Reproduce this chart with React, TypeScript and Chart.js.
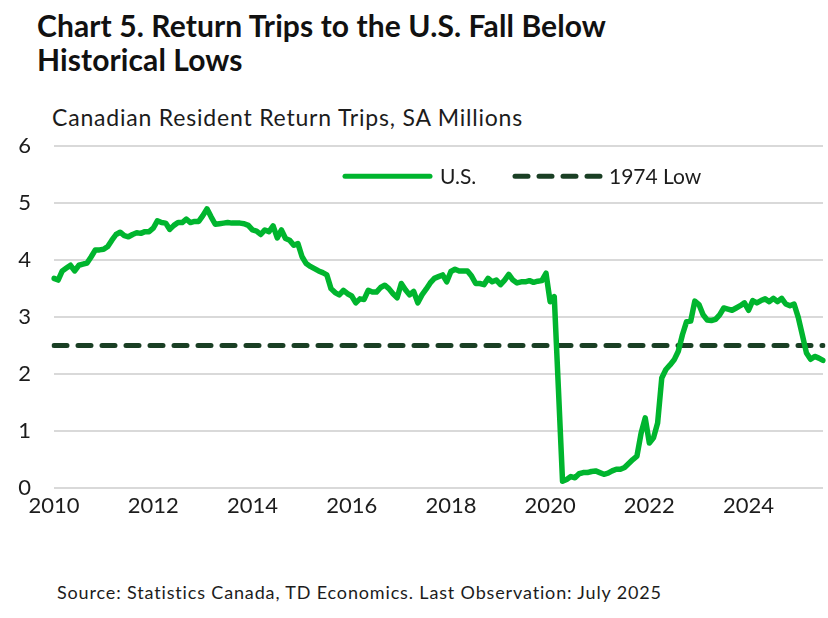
import React, { useEffect, useRef } from 'react';
import { Chart, registerables } from 'chart.js';

Chart.register(...registerables);

// Canadian resident return trips from the U.S., SA millions, monthly Jan 2010 - Jul 2025
const usTrips: number[] = [
  // 2010
  3.68, 3.65, 3.81, 3.86, 3.91, 3.81, 3.91, 3.93, 3.95, 4.06, 4.18, 4.18,
  // 2011
  4.19, 4.24, 4.35, 4.45, 4.49, 4.43, 4.41, 4.45, 4.48, 4.47, 4.50, 4.50,
  // 2012
  4.56, 4.69, 4.66, 4.65, 4.54, 4.61, 4.66, 4.66, 4.72, 4.66, 4.68, 4.68,
  // 2013
  4.78, 4.90, 4.76, 4.63, 4.64, 4.65, 4.66, 4.65, 4.65, 4.65, 4.64, 4.61,
  // 2014
  4.53, 4.51, 4.45, 4.53, 4.50, 4.60, 4.39, 4.53, 4.38, 4.35, 4.26, 4.29,
  // 2015
  4.06, 3.94, 3.89, 3.85, 3.81, 3.78, 3.74, 3.50, 3.43, 3.39, 3.47, 3.41,
  // 2016
  3.37, 3.25, 3.32, 3.31, 3.47, 3.44, 3.44, 3.52, 3.56, 3.50, 3.41, 3.34,
  // 2017
  3.59, 3.48, 3.39, 3.45, 3.25, 3.39, 3.49, 3.60, 3.68, 3.71, 3.74, 3.62,
  // 2018
  3.80, 3.84, 3.81, 3.81, 3.81, 3.72, 3.59, 3.59, 3.57, 3.68, 3.62, 3.65,
  // 2019
  3.57, 3.65, 3.75, 3.65, 3.60, 3.62, 3.62, 3.64, 3.61, 3.63, 3.64, 3.77,
  // 2020
  3.27, 3.36, 1.75, 0.12, 0.15, 0.20, 0.18, 0.25, 0.27, 0.27, 0.29, 0.30,
  // 2021
  0.27, 0.24, 0.26, 0.30, 0.33, 0.33, 0.36, 0.43, 0.50, 0.56, 0.96, 1.23,
  // 2022
  0.79, 0.88, 1.14, 1.93, 2.08, 2.16, 2.25, 2.40, 2.69, 2.92, 2.93, 3.28,
  // 2023
  3.22, 3.04, 2.95, 2.94, 2.96, 3.04, 3.16, 3.14, 3.12, 3.16, 3.20, 3.25,
  // 2024
  3.12, 3.29, 3.25, 3.29, 3.32, 3.27, 3.33, 3.27, 3.33, 3.23, 3.20, 3.23,
  // 2025 (Jan - Jul)
  3.00, 2.69, 2.37, 2.26, 2.31, 2.28, 2.24,
];

const low1974Value = 2.5;
const startYear = 2010;
const monthLabels: string[] = usTrips.map((_, i) => {
  const y = startYear + Math.floor(i / 12);
  const m = (i % 12) + 1;
  return `${y}-${m < 10 ? '0' + m : m}`;
});
const xTickYears = ['2010', '2012', '2014', '2016', '2018', '2020', '2022', '2024'];
const yTickValues = [0, 1, 2, 3, 4, 5, 6];

const seriesNames = ['U.S.', '1974 Low'];
const US_GREEN = '#00b52e';
const DARK_GREEN = '#1a3f24';
const TEXT = '#1c1c1c';
const FONT = 'Lato, "Open Sans", sans-serif';

const legendPlugin = {
  id: 'insideLegend',
  afterDraw(chart: any) {
    const { ctx, chartArea } = chart;
    const y = chartArea.top + 30;
    const x0 = chartArea.left + 289;
    ctx.save();
    ctx.lineCap = 'round';
    // U.S.
    ctx.strokeStyle = US_GREEN;
    ctx.lineWidth = 5;
    ctx.setLineDash([]);
    ctx.beginPath();
    ctx.moveTo(x0 + 2, y);
    ctx.lineTo(x0 + 87, y);
    ctx.stroke();
    ctx.font = `21px ${FONT}`;
    ctx.fillStyle = TEXT;
    ctx.textBaseline = 'middle';
    ctx.fillText(seriesNames[0], x0 + 97, y + 1);
    // 1974 Low
    const x1 = x0 + 170;
    ctx.strokeStyle = DARK_GREEN;
    ctx.setLineDash([13, 11]);
    ctx.beginPath();
    ctx.moveTo(x1 + 2, y);
    ctx.lineTo(x1 + 88, y);
    ctx.stroke();
    ctx.setLineDash([]);
    ctx.fillText(seriesNames[1], x1 + 96, y + 1);
    ctx.restore();
  },
};

function TripsChart() {
  const ref = useRef<HTMLCanvasElement | null>(null);
  useEffect(() => {
    if (!ref.current) return;
    const chart = new Chart(ref.current, {
      type: 'line',
      data: {
        labels: monthLabels,
        datasets: [
          {
            label: seriesNames[1],
            data: monthLabels.map(() => low1974Value),
            borderColor: DARK_GREEN,
            borderWidth: 5,
            borderDash: [13, 11],
            borderCapStyle: 'round',
            pointRadius: 0,
            fill: false,
            order: 2,
          },
          {
            label: seriesNames[0],
            data: usTrips,
            borderColor: US_GREEN,
            borderWidth: 5.5,
            borderJoinStyle: 'round',
            borderCapStyle: 'round',
            pointRadius: 0,
            tension: 0,
            fill: false,
            order: 1,
          },
        ],
      },
      options: {
        animation: false,
        responsive: false,
        devicePixelRatio: 1,
        layout: { padding: { top: 15, right: 2, left: 0, bottom: 0 } },
        plugins: {
          legend: { display: false },
          tooltip: { enabled: false },
          title: { display: false },
        },
        scales: {
          x: {
            type: 'category',
            offset: false,
            grid: { display: false, drawTicks: false },
            border: { display: false },
            ticks: {
              autoSkip: false,
              maxRotation: 0,
              minRotation: 0,
              padding: 5,
              color: TEXT,
              font: { family: FONT, size: 22 },
              callback: (_v: any, index: number) => {
                const lab = monthLabels[index];
                const yr = lab.slice(0, 4);
                return lab.endsWith('-01') && xTickYears.includes(yr) ? yr : '';
              },
            },
            afterFit: (scale: any) => {
              scale.height = 40;
            },
          },
          y: {
            min: yTickValues[0],
            max: yTickValues[yTickValues.length - 1],
            grid: { color: '#d9d9d9', lineWidth: 2, drawTicks: false },
            border: { display: false },
            ticks: {
              stepSize: 1,
              padding: 23,
              color: TEXT,
              font: { family: FONT, size: 22 },
            },
            afterFit: (scale: any) => {
              scale.width = 54;
            },
          },
        },
      },
      plugins: [legendPlugin],
    });
    return () => chart.destroy();
  }, []);
  return (
    <canvas
      ref={ref}
      width={828}
      height={418}
      style={{ position: 'absolute', left: 0, top: 110, width: 828, height: 418 }}
    />
  );
}

export default function App() {
  return (
    <div
      style={{
        position: 'absolute',
        left: 0,
        top: 0,
        width: 828,
        height: 618,
        background: '#fff',
        fontFamily: FONT,
        color: TEXT,
        overflow: 'hidden',
      }}
    >
      <div
        style={{
          position: 'absolute',
          left: 37,
          top: 8,
          fontSize: 30,
          lineHeight: '34px',
          fontWeight: 700,
          letterSpacing: '0.1px',
          color: '#111',
          whiteSpace: 'nowrap',
        }}
      >
        Chart 5. Return Trips to the U.S. Fall Below
        <br />
        Historical Lows
      </div>
      <div
        style={{
          position: 'absolute',
          left: 52,
          top: 103,
          fontSize: 23,
          lineHeight: '28px',
          letterSpacing: '0.8px',
          whiteSpace: 'nowrap',
        }}
      >
        Canadian Resident Return Trips, SA Millions
      </div>
      <TripsChart />
      <div
        style={{
          position: 'absolute',
          left: 57,
          top: 581,
          fontSize: 18,
          lineHeight: '22px',
          letterSpacing: '0.85px',
          whiteSpace: 'nowrap',
        }}
      >
        Source: Statistics Canada, TD Economics. Last Observation: July 2025
      </div>
    </div>
  );
}
